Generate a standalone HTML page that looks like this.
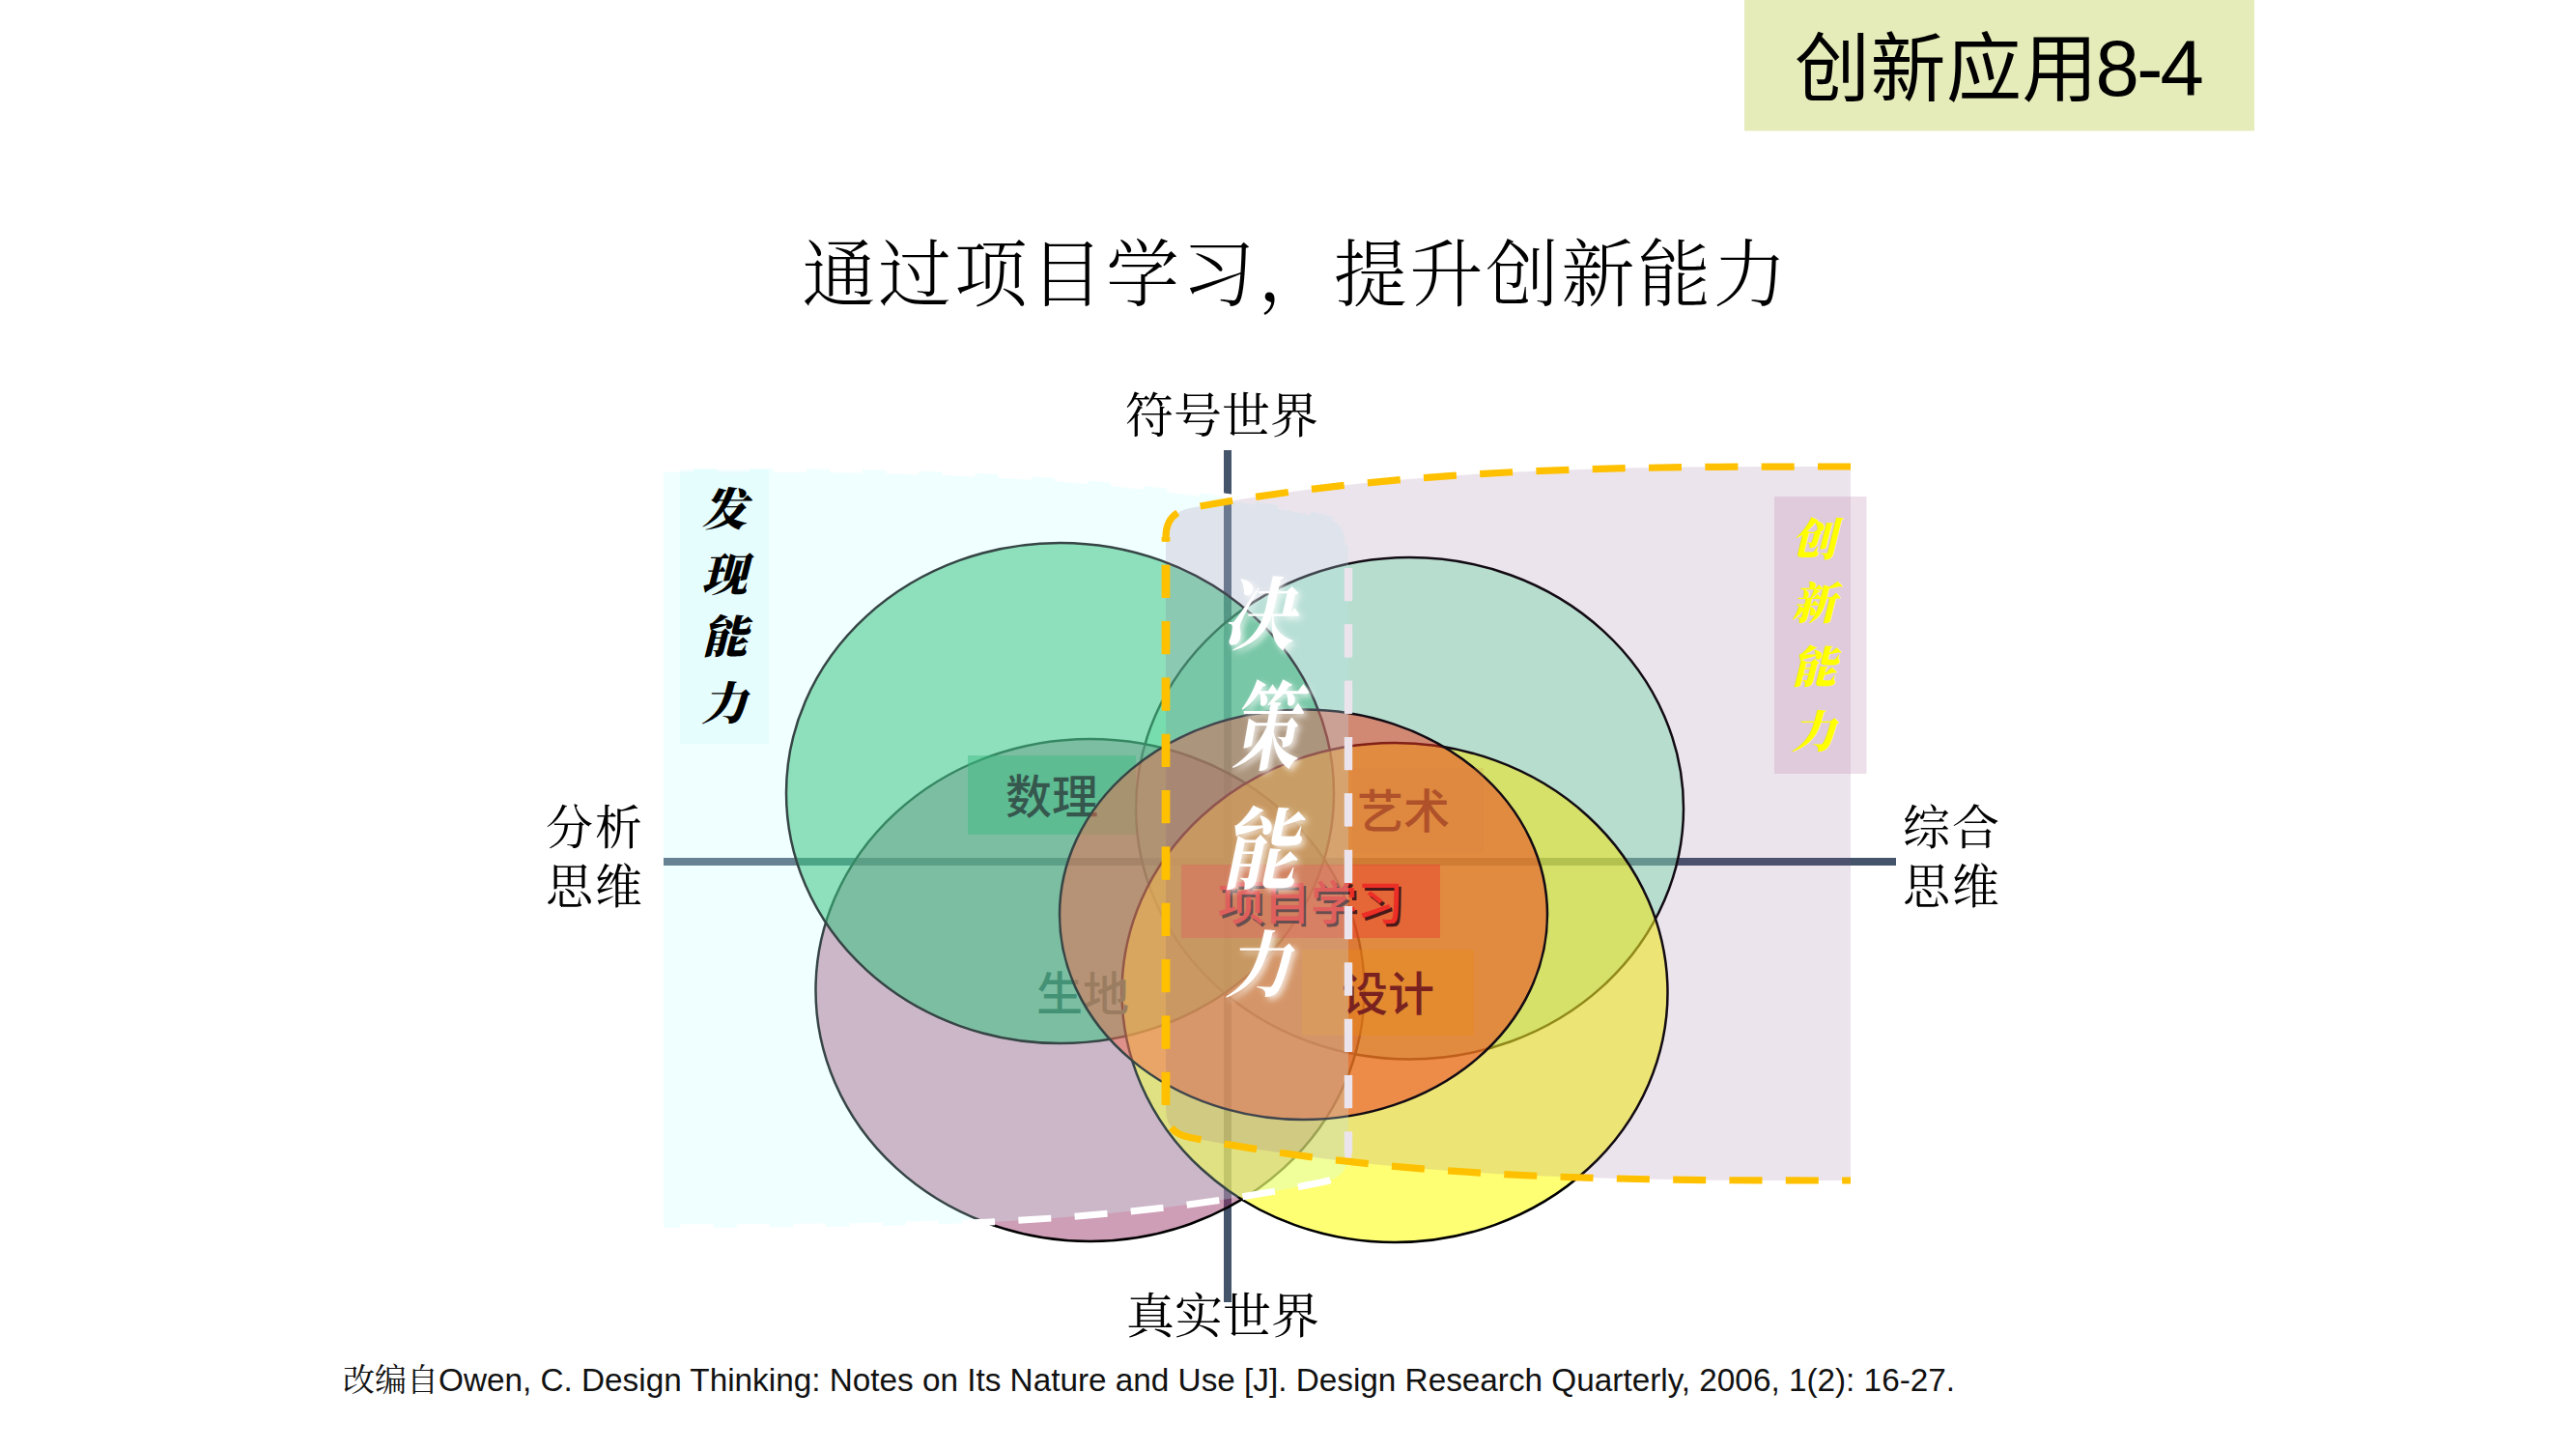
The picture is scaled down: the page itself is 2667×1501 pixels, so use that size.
<!DOCTYPE html>
<html lang="zh-CN">
<head>
<meta charset="utf-8">
<title>创新应用8-4</title>
<style>
html,body{margin:0;padding:0;background:#fff;}
body{width:2667px;height:1501px;overflow:hidden;position:relative;}
svg{position:absolute;left:0;top:0;display:block;}
.hei{font-family:"Liberation Sans","Noto Sans CJK SC",sans-serif;}
.song{font-family:"Liberation Serif","Noto Serif CJK SC",serif;}
</style>
</head>
<body>
<svg width="2667" height="1501" viewBox="0 0 2667 1501">
  <defs>
    <filter id="glow" x="-30%" y="-30%" width="160%" height="160%">
      <feGaussianBlur in="SourceAlpha" stdDeviation="3"/>
      <feOffset dx="3" dy="3" result="b"/>
      <feFlood flood-color="#ffffff" flood-opacity="0.75"/>
      <feComposite in2="b" operator="in"/>
      <feMerge><feMergeNode/><feMergeNode in="SourceGraphic"/></feMerge>
    </filter>
  </defs>

  <!-- header tag -->
  <rect x="1806" y="0" width="528" height="135.5" fill="#e6ecb9"/>
  <text class="hei" x="1858" y="99" font-size="78" letter-spacing="0.5" fill="#000">创新应用</text>
  <text class="hei" x="2169.5" y="98.5" font-size="81.5" letter-spacing="-2.7" fill="#000">8-4</text>

  <!-- title -->
  <text class="song" x="1341.5" y="311" font-size="76" font-weight="300" letter-spacing="2.6" text-anchor="middle" fill="#000">通过项目学习，提升创新能力</text>

  <!-- axes -->
  <rect x="687" y="888" width="1276" height="8" fill="#44546a"/>
  <rect x="1267" y="466" width="8" height="882" fill="#44546a"/>

  <!-- axis labels -->
  <g class="song" font-size="50" fill="#000" text-anchor="middle">
    <text x="1265" y="448">符号世界</text>
    <text x="1266" y="1379.5">真实世界</text>
    <text x="616" y="874" font-size="49" letter-spacing="2">分析</text>
    <text x="616" y="934.5" font-size="49" letter-spacing="2">思维</text>
    <text x="2021" y="874" font-size="49" letter-spacing="2">综合</text>
    <text x="2021" y="934.5" font-size="49" letter-spacing="2">思维</text>
  </g>

  <!-- circles -->
  <g stroke="#000" stroke-width="2.5">
    <ellipse cx="1459.5" cy="836.75" rx="283.5" ry="259.75" fill="#82f0b9" fill-opacity="0.5"/>
    <ellipse cx="1128.5" cy="1025" rx="284" ry="260" fill="#993366" fill-opacity="0.48"/>
    <ellipse cx="1097.5" cy="821" rx="283.5" ry="259" fill="#00b050" fill-opacity="0.53"/>
    <ellipse cx="1444" cy="1027.5" rx="282.5" ry="258.5" fill="#ffff10" fill-opacity="0.58"/>
    <g class="hei" font-size="48" stroke="none" text-anchor="middle">
      <rect x="1002" y="782" width="174" height="82" fill="#00a050" fill-opacity="0.42"/>
      <text x="1089" y="842" fill="#001a0c" font-weight="500">数理</text>
      <text x="1121" y="1046" fill="#126a44" font-weight="500">生地</text>
    </g>
    <ellipse cx="1349.5" cy="946.75" rx="252.5" ry="212.25" fill="#ff320a" fill-opacity="0.5"/>
  </g>

  <!-- label boxes + texts -->
  <g class="hei" font-size="48">
    <rect x="1400" y="795" width="136" height="88" fill="#e08030" fill-opacity="0.15"/>
    <text x="1453" y="857" text-anchor="middle" fill="#b8531c" font-weight="500">艺术</text>

    <rect x="1223" y="895" width="268" height="76" fill="#ff2a1a" fill-opacity="0.4"/>
    <text x="1357" y="952" text-anchor="middle" fill="#200000" fill-opacity="0.85" font-weight="500" transform="translate(2.6,2.6)">项目学习</text>
    <text x="1357" y="952" text-anchor="middle" fill="#ff2a18" font-weight="500">项目学习</text>

    <rect x="1348" y="983" width="178" height="89" fill="#ff9900" fill-opacity="0.35"/>
    <text x="1437" y="1046" text-anchor="middle" fill="#7a1c10" font-weight="500">设计</text>
  </g>

  <!-- left (discovery) region -->
  <path id="leftFill" d="M687,485 C915,485 1143,485 1371,532.4 Q1396,537.5 1396,562 L1396,1194 Q1396,1218.5 1371,1223.3 C1143,1270.7 915,1270.7 687,1270.7 Z" fill="#c8ffff" fill-opacity="0.27"/>
  <path id="leftStroke" d="M687,485 C915,485 1143,485 1371,532.4 Q1396,537.5 1396,562 L1396,1194 Q1396,1218.5 1371,1223.3 C1143,1270.7 915,1270.7 687,1270.7" fill="none" stroke="#fff" stroke-width="7" stroke-dasharray="34 24.35" stroke-dashoffset="3"/>
  <path d="M1396,562 L1396,1194" fill="none" stroke="#fff" stroke-width="8.4" stroke-dasharray="34 24.35" stroke-dashoffset="32.4"/>

  <!-- right (innovation) region -->
  <path id="rightFill" d="M1916,483 C1688,483 1460,483 1232,526 Q1207,531 1207,556 L1207,1148 Q1207,1173 1232,1177.5 C1460,1222 1688,1222 1916,1222 Z" fill="#804b80" fill-opacity="0.15"/>
  <path id="rightStroke" d="M1916,483 C1688,483 1460,483 1232,526 Q1207,531 1207,556 L1207,1148 Q1207,1173 1232,1177.5 C1460,1222 1688,1222 1916,1222" fill="none" stroke="#ffc000" stroke-width="7.2" stroke-dasharray="34 24.33"/>
  <path d="M1207,556 L1207,1148" fill="none" stroke="#ffc000" stroke-width="8.8" stroke-dasharray="34 24.33" stroke-dashoffset="29.54"/>

  <!-- vertical capability labels -->
  <rect x="704" y="486" width="92" height="284" fill="#b4f0f8" fill-opacity="0.16"/>
  <g class="song" font-size="47" font-weight="900" font-style="italic" fill="#000" text-anchor="middle">
    <text x="750" y="544">发</text>
    <text x="750" y="612">现</text>
    <text x="750" y="676">能</text>
    <text x="750" y="745">力</text>
  </g>

  <rect x="1837" y="514" width="95.5" height="287" fill="#b070a0" fill-opacity="0.22"/>
  <g class="song" font-size="46" font-weight="900" font-style="italic" fill="#ffff00" text-anchor="middle">
    <text x="1878" y="575">创</text>
    <text x="1878" y="641">新</text>
    <text x="1878" y="707">能</text>
    <text x="1878" y="774">力</text>
  </g>

  <g class="song" font-size="82" font-weight="700" font-style="italic" fill="#fff" text-anchor="middle" filter="url(#glow)">
    <text transform="translate(1302,666) scale(0.911,1.013)">决</text>
    <text transform="translate(1309.6,788.7) scale(0.854,1.227)">策</text>
    <text transform="translate(1303.3,913) scale(0.952,1.13)">能</text>
    <text transform="translate(1302.5,1025.5) scale(0.833,0.92)">力</text>
  </g>

  <!-- footer -->
  <text class="hei" x="355" y="1440" font-size="33" fill="#111"><tspan class="song" font-weight="400">改编自</tspan><tspan font-size="33.3">Owen, C. Design Thinking: Notes on Its Nature and Use [J]. Design Research Quarterly, 2006, 1(2): 16-27.</tspan></text>
</svg>
</body>
</html>
